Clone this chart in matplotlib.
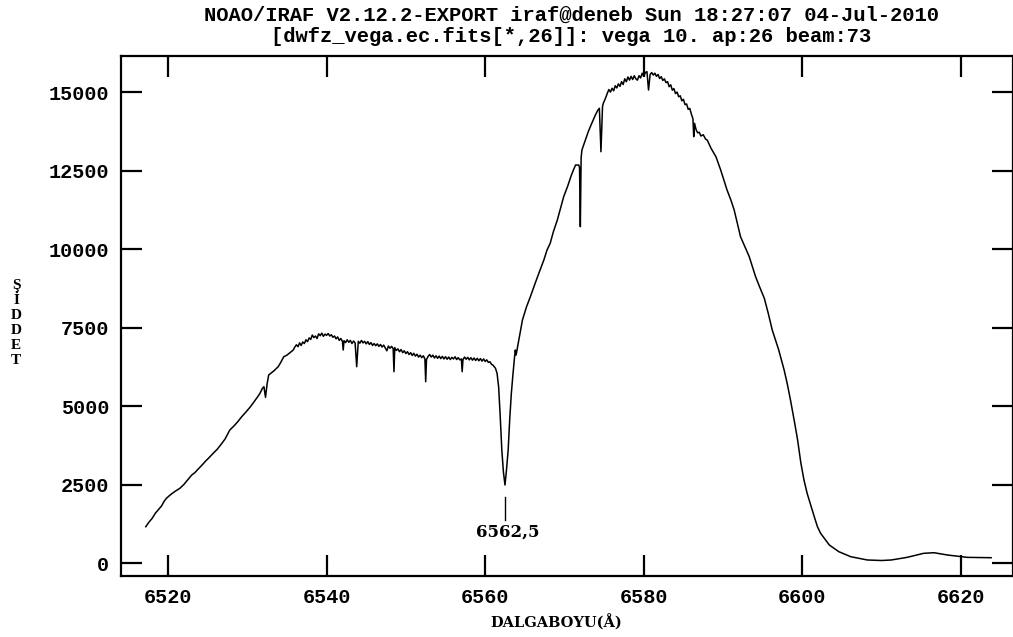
import matplotlib
matplotlib.use("Agg")
import matplotlib.pyplot as plt

# ---- data -------------------------------------------------------------
wavelength = [
    # blue wing (rising)
    6517.2, 6517.6, 6518.0, 6518.4, 6518.8, 6519.2, 6519.5, 6519.8, 6520.2, 6520.6,
    6521.0, 6521.5, 6522.0, 6522.5, 6523.0, 6523.4, 6523.8, 6524.3, 6524.8, 6525.2,
    6525.7, 6526.2, 6526.8, 6527.2, 6527.8, 6528.3, 6528.8, 6529.3, 6529.8, 6530.4,
    6530.9, 6531.3, 6531.6, 6531.9, 6532.1, 6532.3, 6532.5, 6532.7, 6533.0, 6533.4,
    6533.9, 6534.2, 6534.6, 6535.0, 6535.4, 6535.8,
    # plateau with metal lines
    6536.0, 6536.2, 6536.4, 6536.6, 6536.8, 6537.0, 6537.2, 6537.4, 6537.6, 6537.8,
    6538.0, 6538.2, 6538.4, 6538.6, 6538.8, 6539.0, 6539.2, 6539.4, 6539.6, 6539.8,
    6540.0, 6540.2, 6540.4, 6540.6, 6540.8, 6541.0, 6541.2, 6541.4, 6541.6, 6541.8,
    6542.0, 6542.1, 6542.2, 6542.4, 6542.6, 6542.8, 6543.0, 6543.2, 6543.4, 6543.6,
    6543.8, 6544.0, 6544.2, 6544.4, 6544.6, 6544.8, 6545.0, 6545.2, 6545.4, 6545.6,
    6545.8, 6546.0, 6546.2, 6546.4, 6546.6, 6546.8, 6547.0, 6547.2, 6547.4, 6547.6,
    6547.8, 6548.0, 6548.2, 6548.4, 6548.5, 6548.6, 6548.8, 6549.0, 6549.2, 6549.4,
    6549.6, 6549.8, 6550.0, 6550.2, 6550.4, 6550.6, 6550.8, 6551.0, 6551.2, 6551.4,
    6551.6, 6551.8, 6552.0, 6552.2, 6552.4, 6552.5, 6552.6, 6552.8, 6553.0, 6553.2,
    6553.4, 6553.6, 6553.8, 6554.0, 6554.2, 6554.4, 6554.6, 6554.8, 6555.0, 6555.2,
    6555.4, 6555.6, 6555.8, 6556.0, 6556.2, 6556.4, 6556.6, 6556.8, 6557.0, 6557.1,
    6557.2, 6557.4, 6557.6, 6557.8, 6558.0, 6558.2, 6558.4, 6558.6, 6558.8, 6559.0,
    6559.2, 6559.4, 6559.6, 6559.8, 6560.0, 6560.2, 6560.4, 6560.6, 6560.8, 6561.0,
    # H-alpha core
    6561.3, 6561.5, 6561.7, 6561.9, 6562.1, 6562.3, 6562.5, 6562.7, 6562.9,
    6563.1, 6563.3, 6563.5, 6563.7, 6563.8, 6563.9, 6564.1, 6564.4, 6564.7, 6565.2,
    # steep rise
    6565.7, 6566.3, 6566.8, 6567.4, 6567.8, 6568.2, 6568.6, 6569.1, 6569.5, 6569.9,
    6570.4, 6570.8, 6571.1, 6571.4, 6571.8, 6571.9, 6572.0, 6572.1, 6572.2, 6572.6,
    6573.0, 6573.4, 6573.9, 6574.2, 6574.4, 6574.6, 6574.8, 6574.9, 6575.2,
    # peak
    6575.4, 6575.6, 6575.8, 6576.0, 6576.2, 6576.4, 6576.6, 6576.8, 6577.0, 6577.2,
    6577.4, 6577.6, 6577.8, 6578.0, 6578.2, 6578.4, 6578.6, 6578.8, 6579.0, 6579.2,
    6579.4, 6579.6, 6579.8, 6580.0, 6580.2, 6580.4, 6580.6, 6580.8, 6581.0, 6581.2,
    6581.4, 6581.6, 6581.8, 6582.0, 6582.2, 6582.4, 6582.6, 6582.8, 6583.0, 6583.2,
    6583.4, 6583.6, 6583.8, 6584.0, 6584.2, 6584.4, 6584.6, 6584.8, 6585.0, 6585.2,
    6585.4, 6585.6, 6585.8, 6586.0, 6586.2, 6586.3, 6586.4, 6586.6, 6586.8, 6587.0,
    6587.2, 6587.5, 6587.8, 6588.0,
    # red decline
    6588.5, 6589.1, 6589.7, 6590.1, 6590.5, 6591.0, 6591.4,
    6591.8, 6592.2, 6592.7, 6593.3, 6594.1, 6594.6, 6595.2, 6595.7, 6596.2, 6597.0,
    6597.7, 6598.1, 6598.5, 6599.0, 6599.4, 6599.8, 6600.2, 6600.6, 6601.1, 6601.5,
    6601.9, 6602.3, 6603.4, 6604.6, 6606.1, 6608.2, 6610.0, 6611.2, 6613.2, 6615.3,
    6616.6, 6618.3, 6620.8, 6622.5, 6623.8,
]
intensity = [
    1156, 1300, 1420, 1583, 1700, 1820, 1960, 2060, 2150, 2230,
    2300, 2379, 2500, 2650, 2803, 2880, 2990, 3121, 3260, 3360,
    3493, 3620, 3812, 3950, 4236, 4360, 4500, 4660, 4800, 4978,
    5150, 5290, 5404, 5560, 5615, 5277, 5700, 5988, 6050, 6130,
    6252, 6380, 6570, 6620, 6700, 6784,
    6880, 6950, 6890, 7010, 6930, 7040, 6990, 7110, 7050, 7170,
    7120, 7260, 7180, 7230, 7150, 7300, 7240, 7320, 7220, 7290,
    7250, 7310, 7230, 7270, 7190, 7230, 7140, 7200, 7090, 7150,
    7060, 6784, 7080, 7020, 7110, 7030, 7090, 6990, 7070, 7010,
    6252, 7060, 7000, 7090, 7010, 7060, 6980, 7050, 6960, 7020,
    6930, 6990, 6920, 6980, 6900, 6960, 6880, 6940, 6850, 6760,
    6910, 6840, 6900, 6830, 6093, 6860, 6770, 6820, 6730, 6800,
    6700, 6760, 6670, 6730, 6640, 6700, 6610, 6680, 6590, 6650,
    6560, 6620, 6540, 6600, 6500, 5775, 6480, 6580, 6640, 6560,
    6620, 6530, 6600, 6520, 6590, 6510, 6580, 6500, 6570, 6490,
    6560, 6480, 6550, 6500, 6570, 6480, 6540, 6470, 6500, 6093,
    6480, 6560, 6490, 6550, 6470, 6540, 6460, 6530, 6450, 6520,
    6440, 6510, 6430, 6500, 6420, 6470, 6390, 6410, 6330, 6300,
    6201, 6042, 5600, 4660, 3600, 2900, 2484, 3000, 3600,
    4600, 5400, 6000, 6550, 6784, 6624, 6900, 7300, 7740, 8150,
    8482, 8907, 9250, 9651, 9969, 10183, 10550, 10925, 11300, 11666,
    12000, 12303, 12500, 12676, 12676, 12600, 10711, 12900, 13154, 13450,
    13737, 13980, 14269, 14420, 14482, 13100, 14550, 14642, 14820,
    14960, 15080, 15000, 15120, 15040, 15200, 15130, 15260, 15180, 15330,
    15240, 15420, 15330, 15480, 15380, 15500, 15400, 15520, 15420, 15380,
    15520, 15450, 15600, 15500, 15620, 15650, 15065, 15560, 15620, 15540,
    15600, 15500, 15560, 15430, 15490, 15370, 15420, 15300, 15330, 15170,
    15230, 15060, 15110, 14950, 15000, 14850, 14880, 14720, 14770, 14600,
    14620, 14450, 14480, 14300, 14150, 13578, 14004, 13800, 13700, 13720,
    13600, 13640, 13500, 13473,
    13200, 12941, 12517, 12200, 11880, 11550, 11243,
    10819, 10393, 10100, 9756, 9119, 8800, 8431, 7950, 7421, 6800,
    6147, 5700, 5192, 4500, 3918, 3200, 2644, 2220, 1800, 1475,
    1156, 946, 573, 360, 201, 96, 80, 96, 180, 309,
    328, 255, 180, 175, 169,
]
x_ticks = [6520, 6540, 6560, 6580, 6600, 6620]
y_ticks = [0, 2500, 5000, 7500, 10000, 12500, 15000]
line_mark = 6562.5
line_label = "6562,5"
title_lines = ["NOAO/IRAF V2.12.2-EXPORT iraf@deneb Sun 18:27:07 04-Jul-2010",
               "[dwfz_vega.ec.fits[*,26]]: vega 10. ap:26 beam:73"]
x_label = "DALGABOYU(Å)"
y_label = "ŞİDDET"

# ---- figure -------------------------------------------------------------
W, H = 1013, 637
fig = plt.figure(figsize=(W / 100, H / 100), dpi=100)
L, R, T, B = 120.7, 1013.0, 56.0, 575.7
ax = fig.add_axes([L / W, 1 - B / H, (R - L) / W, (B - T) / H])

ax.plot(wavelength, intensity, color="black", lw=1.1)
ax.set_xlim(6514.04, 6626.56)
ax.set_ylim(-404, 16148)

mono = "Liberation Mono"
ax.set_xticks(x_ticks)
ax.set_yticks(y_ticks)
ax.set_xticklabels([str(v) for v in x_ticks], family=mono, fontsize=14.5, fontweight="bold")
ax.set_yticklabels([str(v) for v in y_ticks], family=mono, fontsize=14.5, fontweight="bold")
ax.tick_params(which="major", direction="in", length=15, width=1.6,
               top=True, right=True)
ax.tick_params(axis="x", pad=9)
ax.tick_params(axis="y", pad=8.4)
for s in ax.spines.values():
    s.set_linewidth(1.6)

# H-alpha marker
ax.plot([line_mark, line_mark], [1370, 2102], color="black", lw=1.0)
ax.text(line_mark + 0.4, 987, line_label, ha="center", va="center",
        family="DejaVu Serif", fontweight="bold", fontsize=12)

# titles
fig.text(571 / W, 1 - 15 / H, title_lines[0], ha="center", va="center",
         family=mono, fontweight="bold", fontsize=14.8)
fig.text(571 / W, 1 - 37 / H, title_lines[1], ha="center", va="center",
         family=mono, fontweight="bold", fontsize=14.8)

# axis labels
fig.text(556 / W, 1 - 623 / H, x_label, ha="center", va="center",
         family="DejaVu Serif", fontweight="bold", fontsize=10.5)
fig.text(16 / W, 1 - 323 / H, "\n".join(y_label), ha="center", va="center",
         family="Liberation Serif", fontweight="bold", fontsize=11, linespacing=1.2)

fig.savefig("out.png", dpi=100)
